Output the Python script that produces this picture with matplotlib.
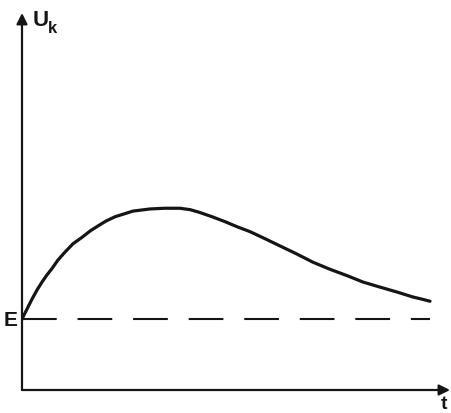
import numpy as np
import matplotlib.pyplot as plt

plt.rcParams['lines.scale_dashes'] = False

# values (t in arbitrary units, U relative to E)
t = [0.0, 0.245, 0.37, 0.49, 0.61, 0.735, 0.88, 1.05, 1.25, 1.47, 1.67, 1.86,
     2.06, 2.28, 2.50, 2.72, 3.14, 3.50, 3.87, 4.12, 4.36, 4.66, 4.98, 5.27,
     5.59, 5.96, 6.32, 6.72, 7.13, 7.55, 7.97, 8.36, 8.77, 9.19, 9.58, 9.80, 10.0]
u_k = [1.0, 1.28, 1.41, 1.52, 1.62, 1.71, 1.83, 1.94, 2.06, 2.15, 2.24, 2.31,
       2.38, 2.44, 2.48, 2.52, 2.55, 2.56, 2.56, 2.54, 2.50, 2.44, 2.37, 2.30,
       2.23, 2.13, 2.03, 1.92, 1.80, 1.70, 1.61, 1.52, 1.45, 1.38, 1.31, 1.28, 1.25]
E = 1.0
t_end = 10.0
x_max = 10.49
y_max = 5.31

fig = plt.figure(figsize=(4.51, 4.14), dpi=100)
ax = fig.add_axes([22 / 451, 23 / 414, 428 / 451, 377 / 414])
ax.set_xlim(0, x_max)
ax.set_ylim(0, y_max)
for s in ax.spines.values():
    s.set_visible(False)
ax.set_xticks([])
ax.set_yticks([])

ink = '#151515'

# axes with arrows
arrow = dict(arrowstyle='-|>', lw=1.6, color=ink, mutation_scale=16,
             shrinkA=0, shrinkB=0)
ax.annotate('', xy=(1, 0), xytext=(0, 0), xycoords='axes fraction', arrowprops=arrow)
ax.annotate('', xy=(0, 1), xytext=(0, 0), xycoords='axes fraction', arrowprops=arrow)

# E level
ax.plot([0, t_end], [E, E], color=ink, lw=1.5, dashes=(25, 15))

# U_k(t)
ax.plot(t, u_k, color=ink, lw=2.3, solid_capstyle='round', solid_joinstyle='round')

font = dict(family='Liberation Sans', weight='bold', color=ink)
ax.text(-0.12, E, 'E', ha='right', va='center', fontsize=15, clip_on=False, **font)
ax.text(0.25, 5.22, 'U', ha='left', va='center', fontsize=16, clip_on=False, **font)
ax.text(0.64, 5.1, 'k', ha='left', va='center', fontsize=12, clip_on=False, **font)
ax.text(10.34, -0.19, 't', ha='center', va='center', fontsize=14, clip_on=False, **font)

fig.savefig('out.png', dpi=100)
